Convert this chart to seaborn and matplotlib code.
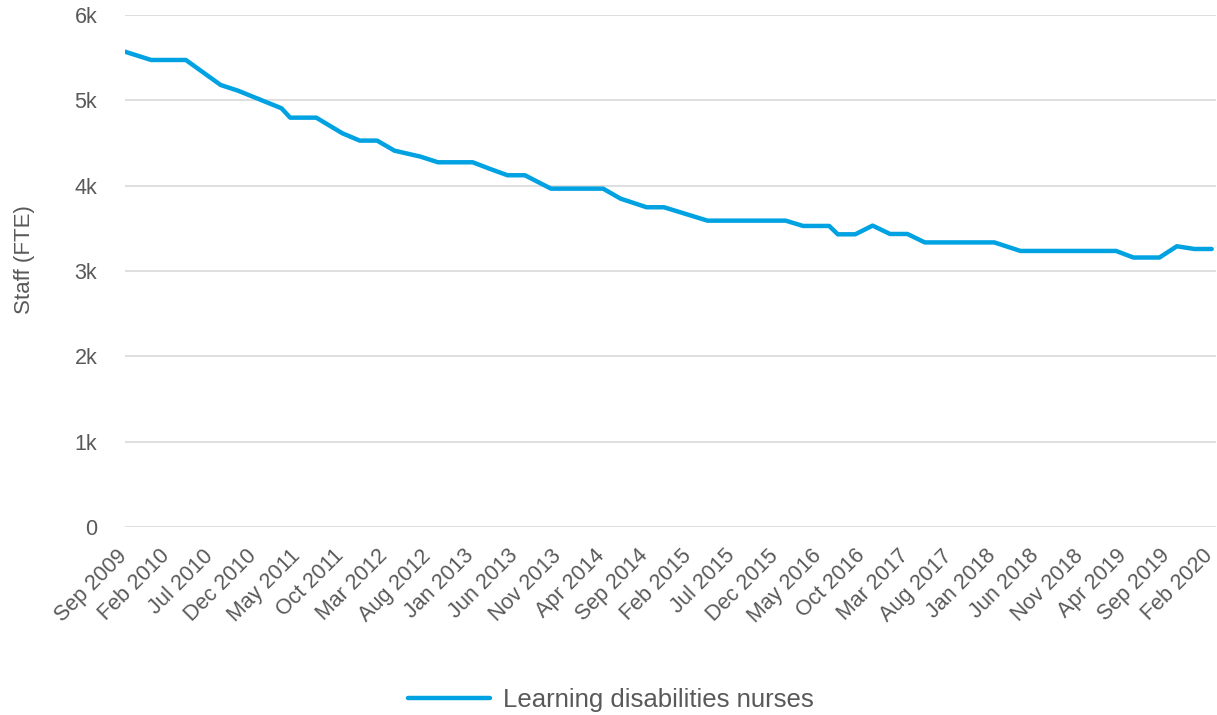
import matplotlib
matplotlib.use("Agg")
import matplotlib.pyplot as plt
import matplotlib.transforms as mtransforms
import seaborn as sns
import pandas as pd

# Data (vertices of the line)
dates = ["2009-09", "2009-12", "2010-04", "2010-08", "2010-10", "2011-03", "2011-04",
         "2011-07", "2011-10", "2011-12", "2012-02", "2012-04", "2012-07", "2012-09",
         "2013-01", "2013-03", "2013-05", "2013-07", "2013-10", "2014-04", "2014-06",
         "2014-09", "2014-11", "2015-04", "2016-01", "2016-03", "2016-06", "2016-07",
         "2016-09", "2016-11", "2017-01", "2017-03", "2017-05", "2018-01", "2018-04",
         "2019-03", "2019-05", "2019-08", "2019-10", "2019-12", "2020-02"]
staff = [5570, 5473, 5473, 5180, 5113, 4907, 4797,
         4797, 4614, 4528, 4528, 4410, 4340, 4274,
         4274, 4196, 4122, 4122, 3965, 3965, 3848,
         3747, 3747, 3590, 3590, 3528, 3528, 3430,
         3430, 3532, 3434, 3434, 3335, 3335, 3235,
         3235, 3158, 3158, 3290, 3258, 3258]
series_name = "Learning disabilities nurses"
tick_labels = ["Sep 2009", "Feb 2010", "Jul 2010", "Dec 2010", "May 2011", "Oct 2011",
               "Mar 2012", "Aug 2012", "Jan 2013", "Jun 2013", "Nov 2013", "Apr 2014",
               "Sep 2014", "Feb 2015", "Jul 2015", "Dec 2015", "May 2016", "Oct 2016",
               "Mar 2017", "Aug 2017", "Jan 2018", "Jun 2018", "Nov 2018", "Apr 2019",
               "Sep 2019", "Feb 2020"]
y_ticks = [0, 1000, 2000, 3000, 4000, 5000, 6000]
y_tick_labels = ["0", "1k", "2k", "3k", "4k", "5k", "6k"]

start = pd.Period("2009-09", freq="M")
month_idx = [(pd.Period(d, freq="M") - start).n for d in dates]
df = pd.DataFrame({"month": month_idx, "staff": staff, "series": series_name})

sns.set_theme(style="white")
plt.rcParams["font.family"] = ["Liberation Sans", "DejaVu Sans"]

text_color = "#595959"
line_color = "#00A2E1"

fig = plt.figure(figsize=(12.17, 7.15), dpi=100)
ax = fig.add_axes([125 / 1217, 1 - 527 / 715, (1216 - 125) / 1217, (527 - 15) / 715])

sns.lineplot(data=df, x="month", y="staff", hue="series", palette=[line_color],
             linewidth=3.2, ax=ax, legend=True)

ax.set_xlim(0, 125.5)
ax.set_ylim(0, 6000)
ax.set_yticks(y_ticks)
ax.set_yticklabels(y_tick_labels)
ax.set_xticks(range(0, 126, 5))
ax.set_xticklabels(tick_labels, rotation=45, ha="right", rotation_mode="anchor")
ax.tick_params(axis="y", length=0, pad=20, labelsize=15.5, labelcolor=text_color)
ax.tick_params(axis="x", length=0, pad=6, labelsize=15.5, labelcolor=text_color)
offset = mtransforms.ScaledTranslation(-9 / 100, -10 / 100, fig.dpi_scale_trans)
for lbl in ax.get_xticklabels():
    lbl.set_transform(lbl.get_transform() + offset)
ax.grid(axis="y", color="#d9d9d9", linewidth=1.2)
ax.grid(axis="x", visible=False)
for s in ax.spines.values():
    s.set_visible(False)
ax.set_xlabel("")
ax.set_ylabel("Staff (FTE)", fontsize=16, color=text_color)
ax.yaxis.set_label_coords((35 - 125) / 1091, (527 - 260) / 512)

handles, labels = ax.get_legend_handles_labels()
ax.legend(handles, labels, loc="center", bbox_to_anchor=(611 / 1217, 15 / 715),
          bbox_transform=fig.transFigure, frameon=False, fontsize=18.5,
          handlelength=3.2, handletextpad=0.5, labelcolor=text_color)

fig.savefig("out.png", dpi=100)
